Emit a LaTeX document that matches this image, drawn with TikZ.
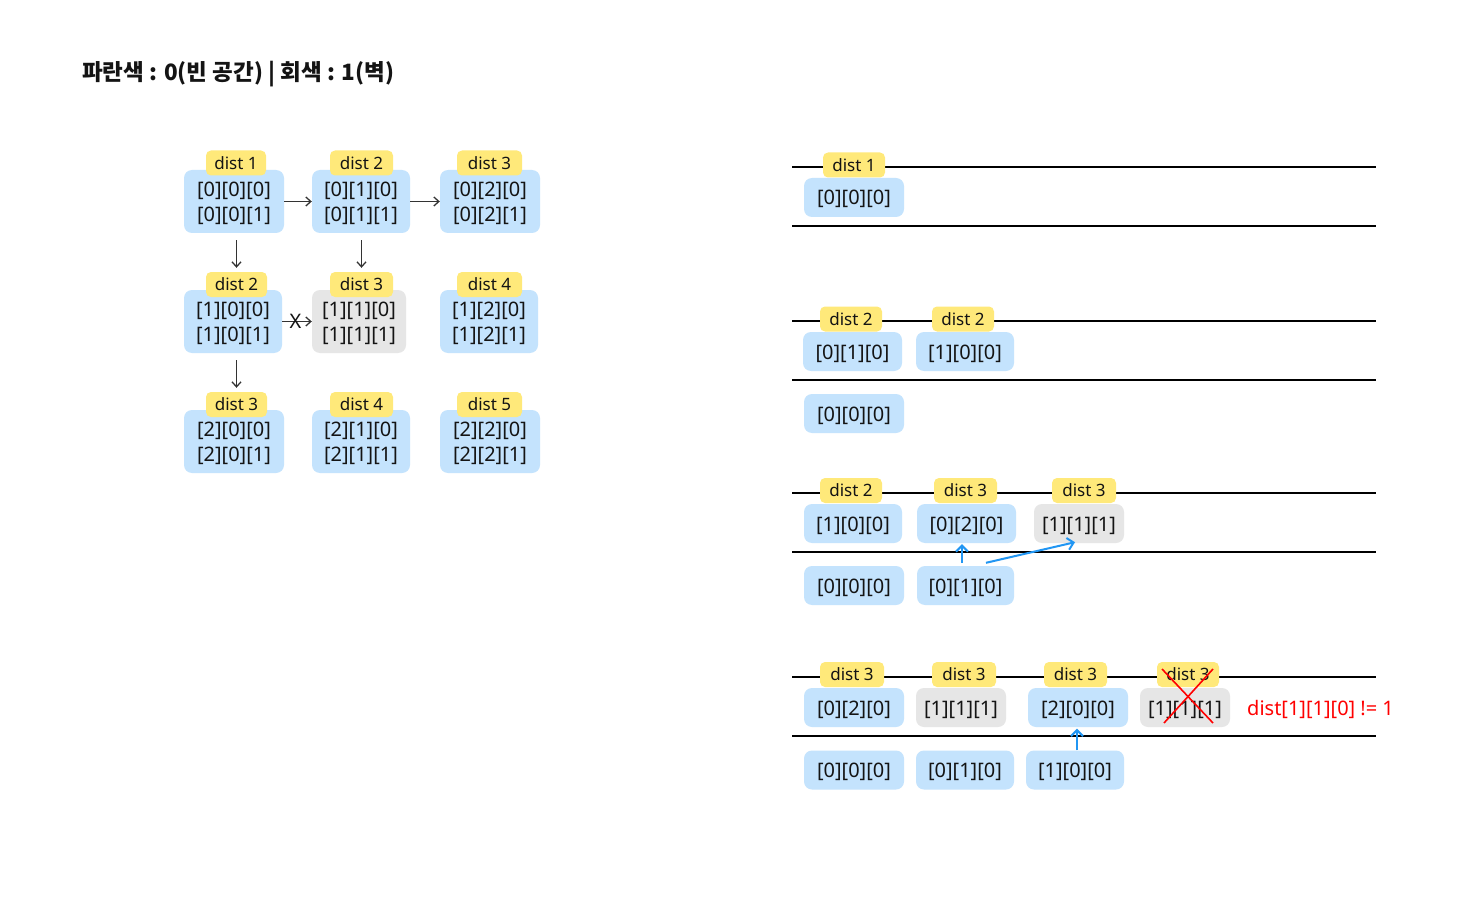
\documentclass[tikz,border=0pt]{standalone}
\usepackage{fontspec}
\setmainfont{Noto Sans}
\newfontfamily\kr{Noto Sans CJK KR}
\usetikzlibrary{arrows.meta}
\definecolor{bxblue}{RGB}{196,227,253}
\definecolor{bxgray}{RGB}{230,230,230}
\definecolor{lbyel}{RGB}{255,233,122}
\definecolor{arrblue}{RGB}{33,150,243}
\definecolor{arrgray}{RGB}{51,51,51}
\definecolor{txt}{RGB}{20,20,20}
\begin{document}
\begin{tikzpicture}[x=1pt,y=-1pt,
  box/.style={rounded corners=8pt, inner sep=0pt, minimum height=39pt,
    font=\fontsize{20}{25}\selectfont, text=txt, text height=18pt, text depth=3pt},
  bb/.style={box, fill=bxblue, minimum width=#1}, bb/.default=100pt,
  gb/.style={box, fill=bxgray, minimum width=#1}, gb/.default=90pt,
  tall/.style={minimum height=63pt, align=center, text height=, text depth=0pt},
  lab/.style={fill=lbyel, rounded corners=5pt, inner sep=0pt, minimum height=25pt,
    minimum width=#1, font=\fontsize{17}{20}\selectfont, text=txt}, lab/.default=62pt,
  hline/.style={line width=2pt, black},
  garr/.style={draw=arrgray, line width=1.3pt, -{Straight Barb[length=5pt,width=9pt]}},
  barr/.style={draw=arrblue, line width=2pt, -{Straight Barb[length=6pt,width=12pt]}},
]
\useasboundingbox[fill=white] (0,0) rectangle (1470,912);

% title
\node[anchor=west, inner sep=0pt, text=txt, font=\kr\bfseries\fontsize{22.5}{26}\selectfont] (title) at (82,74) {파란색 : 0(빈 공간) | 회색 : 1(벽)};

% ---------- left grid ----------
\node[bb=100pt, tall] (a11) at (234,201.5) {[0][0][0]\\\relax [0][0][1]};
\node[bb=98pt, tall]  (a12) at (361,201.5) {[0][1][0]\\\relax [0][1][1]};
\node[bb=100pt, tall] (a13) at (490,201.5) {[0][2][0]\\\relax [0][2][1]};
\node[bb=98pt, tall]  (a21) at (233,321.5) {[1][0][0]\\\relax [1][0][1]};
\node[gb=94pt, tall]  (a22) at (359,321.5) {[1][1][0]\\\relax [1][1][1]};
\node[bb=98pt, tall]  (a23) at (489,321.5) {[1][2][0]\\\relax [1][2][1]};
\node[bb=100pt, tall] (a31) at (234,441.5) {[2][0][0]\\\relax [2][0][1]};
\node[bb=98pt, tall]  (a32) at (361,441.5) {[2][1][0]\\\relax [2][1][1]};
\node[bb=100pt, tall] (a33) at (490,441.5) {[2][2][0]\\\relax [2][2][1]};

\node[lab=60pt] (l11) at (236,163) {dist 1};
\node[lab=63pt] (l12) at (361.5,163) {dist 2};
\node[lab=65pt] (l13) at (489.5,163) {dist 3};
\node[lab=61pt] (l21) at (236.5,284.5) {dist 2};
\node[lab=63pt] (l22) at (361.5,284.5) {dist 3};
\node[lab=65pt] (l23) at (489.5,284.5) {dist 4};
\node[lab=61pt] (l31) at (236.5,404.5) {dist 3};
\node[lab=63pt] (l32) at (361.5,404.5) {dist 4};
\node[lab=65pt] (l33) at (489.5,404.5) {dist 5};

\draw[garr] (a11.east) -- (a12.west);
\draw[garr] (a12.east) -- (a13.west);
\draw[garr, shorten <=7pt, shorten >=4pt] (l21.north |- a11.south) -- (l21.north);
\draw[garr, shorten <=7pt, shorten >=4pt] (l22.north |- a12.south) -- (l22.north);
\draw[garr, shorten <=7pt, shorten >=4pt] (l31.north |- a21.south) -- (l31.north);
\draw[garr] (a21.east) -- node[pos=0.45, inner sep=0pt, text=txt, font=\fontsize{20}{20}\selectfont] (xm) {X} (a22.west);

% ---------- right side ----------
% section 1
\draw[hline] (792,167) -- (1376,167);
\draw[hline] (792,226) -- (1376,226);
\node[bb] (s1a1) at (854,197.5) {[0][0][0]};
\node[lab] (s1l1) at (854,165) {dist 1};

% section 2
\draw[hline] (792,321) -- (1376,321);
\draw[hline] (792,380) -- (1376,380);
\node[bb=99pt] (s2a1) at (852.5,351.5) {[0][1][0]};
\node[bb=98pt] (s2a2) at (965,351.5) {[1][0][0]};
\node[bb] (s2b1) at (854,413.5) {[0][0][0]};
\node[lab] (s2l1) at (851,319) {dist 2};
\node[lab] (s2l2) at (963,319) {dist 2};

% section 3
\draw[hline] (792,493) -- (1376,493);
\draw[hline] (792,552) -- (1376,552);
\node[bb=98pt] (s3a1) at (853,523.5) {[1][0][0]};
\node[bb=99pt] (s3a2) at (966.5,523.5) {[0][2][0]};
\node[gb] (s3a3) at (1079,523.5) {[1][1][1]};
\node[bb] (s3b1) at (854,585.5) {[0][0][0]};
\node[bb=97pt] (s3b2) at (965.5,585.5) {[0][1][0]};
\node[lab] (s3l1) at (851,490.5) {dist 2};
\node[lab=63pt] (s3l2) at (965.5,490.5) {dist 3};
\node[lab=64pt] (s3l3) at (1084,490.5) {dist 3};
\draw[barr] ([xshift=-3.5pt,yshift=3pt]s3b2.north) -- ([xshift=-4.5pt,yshift=-1pt]s3a2.south);
\draw[barr] ([xshift=20.5pt,yshift=3pt]s3b2.north) -- ([xshift=-4pt,yshift=1pt]s3a3.south);

% section 4
\draw[hline] (792,677) -- (1376,677);
\draw[hline] (792,736) -- (1376,736);
\node[bb] (s4a1) at (854,707.5) {[0][2][0]};
\node[gb] (s4a2) at (961,707.5) {[1][1][1]};
\node[bb] (s4a3) at (1078,707.5) {[2][0][0]};
\node[gb] (s4a4) at (1185,707.5) {[1][1][1]};
\node[bb] (s4b1) at (854,770) {[0][0][0]};
\node[bb=98pt] (s4b2) at (965,770) {[0][1][0]};
\node[bb=98pt] (s4b3) at (1075,770) {[1][0][0]};
\node[lab=64pt] (s4l1) at (852,674.5) {dist 3};
\node[lab=64pt] (s4l2) at (964,674.5) {dist 3};
\node[lab=63pt] (s4l3) at (1075.5,674.5) {dist 3};
\node[lab=62pt] (s4l4) at (1188,674.5) {dist 3};
\draw[barr] ([xshift=2pt]s4b3.north) -- ([xshift=-1pt,yshift=-1.5pt]s4a3.south);
\draw[red, line width=1.6pt] (1162,669) -- (1213,723);
\draw[red, line width=1.6pt] (1213,669) -- (1164,723);
\node[anchor=west, inner sep=0pt, text=red, font=\fontsize{20}{24}\selectfont] (note) at (1247,709) {dist[1][1][0] != 1};
\end{tikzpicture}
\end{document}
